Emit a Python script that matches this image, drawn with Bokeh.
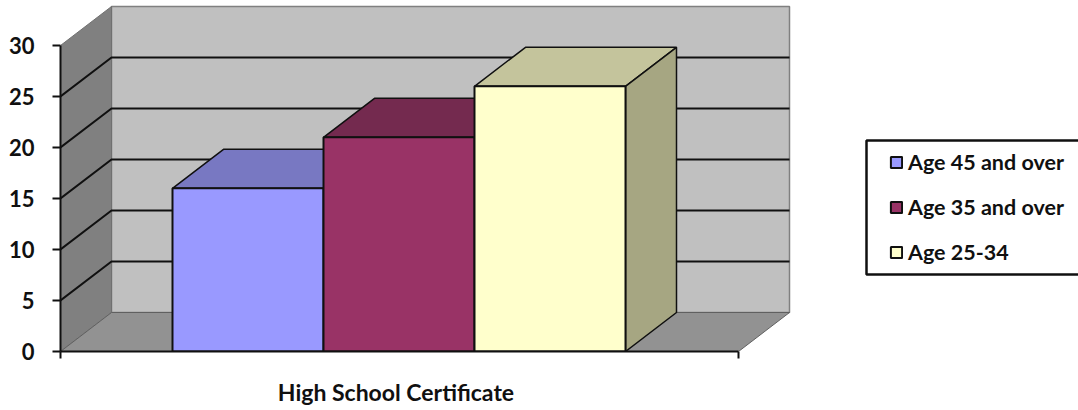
from bokeh.embed import file_html
from bokeh.resources import INLINE
from bokeh.plotting import figure
from bokeh.models import Range1d, FixedTicker, Legend, LegendItem, BoxAnnotation

category = "High School Certificate"
series_names = ["Age 45 and over", "Age 35 and over", "Age 25-34"]
series_values = [16, 21, 26]
y_ticks = [0, 5, 10, 15, 20, 25, 30]
front_colors = ["#9999ff", "#993366", "#ffffcc"]
top_colors = ["#7878c2", "#742a4f", "#c4c49c"]
side_colors = ["#7878c2", "#742a4f", "#a6a682"]

W, H = 1078, 410
FX, FY = 60, 351          # pixel of data origin
PX_X, PX_Y = 678.0, 10.2  # pixels per x unit (one category), per y unit
DX, DY = 51 / PX_X, 39 / PX_Y   # depth of the pseudo-3D view
BAR_L, BAR_W = 112 / PX_X, 151 / PX_X
CAT_X = 335.5 / PX_X

p = figure(width=W, height=H, output_backend="svg", toolbar_location=None,
           x_range=Range1d(0, (W - FX) / PX_X), y_range=Range1d(0, FY / PX_Y),
           min_border_left=FX, min_border_bottom=H - FY, min_border_top=0, min_border_right=0,
           outline_line_color=None, background_fill_color=None)
p.styles = {"position": "absolute", "left": "0px", "top": "0px"}
p.grid.visible = False

top = y_ticks[-1]
# walls and floor
p.patch([DX, 1 + DX, 1 + DX, DX], [DY, DY, top + DY, top + DY], fill_color="#c0c0c0", line_color="#808080", line_width=1.5)
p.patch([0, DX, DX, 0], [0, DY, top + DY, top], fill_color="#808080", line_color="#707070", line_width=1)
p.patch([0, DX, 1 + DX, 1], [0, DY, DY, 0], fill_color="#929292", line_color="#606060", line_width=1)
# gridlines
for v in y_ticks[1:-1]:
    p.line([0, DX, 1 + DX], [v, v + DY, v + DY], line_color="#101010", line_width=2)

# bars
items = []
for i, (name, v) in enumerate(zip(series_names, series_values)):
    l = BAR_L + i * BAR_W
    r = l + BAR_W
    p.patch([l, l + DX, r + DX, r], [v, v + DY, v + DY, v], fill_color=top_colors[i], line_color="#101010", line_width=1.5)
    p.patch([r, r + DX, r + DX, r], [0, DY, v + DY, v], fill_color=side_colors[i], line_color="#101010", line_width=1.5)
    q = p.quad(left=[l], right=[r], bottom=[0], top=[v], fill_color=front_colors[i], line_color="#101010", line_width=2)
    items.append(LegendItem(label=name, renderers=[q]))

# axes
ya = p.yaxis[0]
ya.ticker = FixedTicker(ticks=y_ticks)
ya.bounds = (0, top)
ya.axis_line_color = "#101010"
ya.axis_line_width = 2
ya.major_tick_line_color = "#101010"
ya.major_tick_line_width = 2
ya.major_tick_in = 0
ya.major_tick_out = 8
ya.minor_tick_line_color = None
ya.major_label_standoff = 18
ya.major_label_text_font = "Lato"
ya.major_label_text_font_style = "bold"
ya.major_label_text_font_size = "22px"
ya.major_label_text_color = "#101010"

xa = p.xaxis[0]
xa.ticker = FixedTicker(ticks=[CAT_X], minor_ticks=[0, 1])
xa.major_label_overrides = {CAT_X: category}
xa.bounds = (0, 1)
xa.axis_line_color = "#101010"
xa.axis_line_width = 2
xa.major_tick_line_color = None
xa.major_tick_out = 0
xa.major_tick_in = 0
xa.minor_tick_line_color = "#101010"
xa.minor_tick_line_width = 2
xa.minor_tick_in = 0
xa.minor_tick_out = 7
xa.major_label_standoff = 19
xa.major_label_text_font = "Lato"
xa.major_label_text_font_style = "bold"
xa.major_label_text_font_size = "23px"
xa.major_label_text_color = "#101010"

# legend frame: its right side runs off the page, as in the reference
p.add_layout(BoxAnnotation(left=806, right=1040, top=211, bottom=77,
                           left_units="screen", right_units="screen",
                           top_units="screen", bottom_units="screen",
                           fill_color="white", fill_alpha=1,
                           line_color="#101010", line_alpha=1, line_width=2.5, level="overlay"))

legend = Legend(items=items, location=(829, 86), orientation="vertical", margin=0,
                padding=12, spacing=19, glyph_width=14, glyph_height=14, label_height=20,
                label_standoff=5, border_line_color=None,
                background_fill_color="white", background_fill_alpha=0,
                label_text_font="Lato", label_text_font_style="bold",
                label_text_font_size="21.5px", label_text_color="#101010", level="overlay")
p.add_layout(legend, "center")

open("out.html", "w").write(file_html(p, INLINE))
